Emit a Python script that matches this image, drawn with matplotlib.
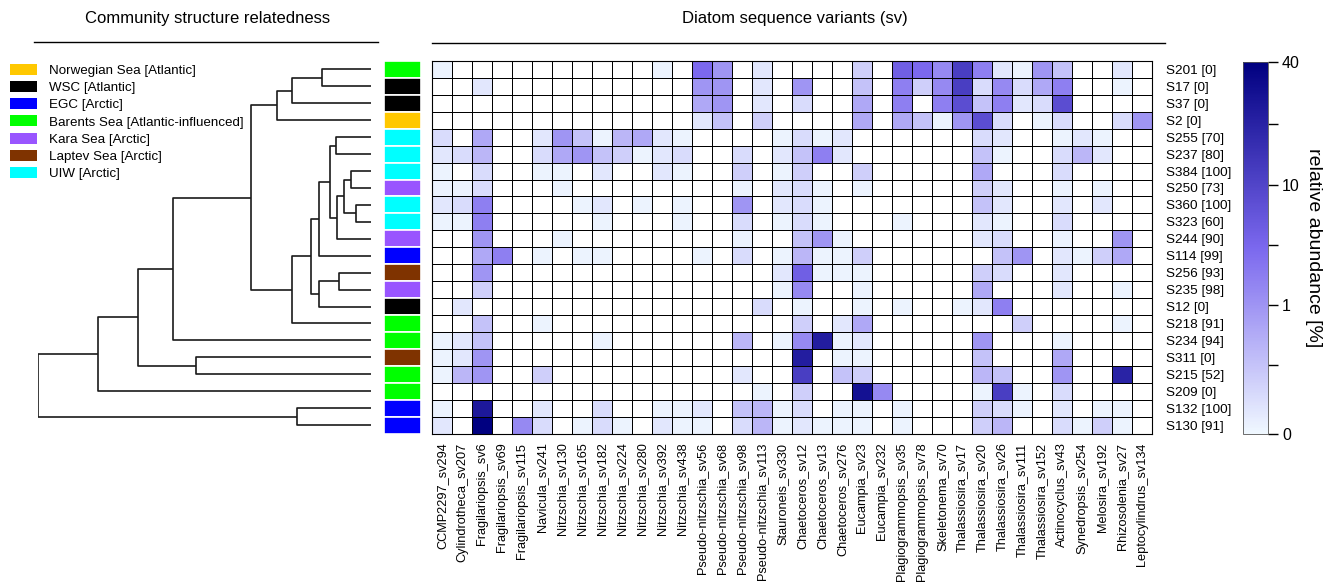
import numpy as np
import matplotlib
matplotlib.use("Agg")
import matplotlib.pyplot as plt
from matplotlib.colors import LinearSegmentedColormap, FuncNorm
from matplotlib.patches import Patch
from matplotlib.lines import Line2D
from matplotlib.ticker import FixedLocator, NullFormatter

plt.rcParams['font.family'] = ['Liberation Sans', 'DejaVu Sans']

# samples, top to bottom, with the number shown in brackets
samples = ["S201", "S17", "S37", "S2", "S255", "S237", "S384", "S250", "S360", "S323", "S244",
           "S114", "S256", "S235", "S12", "S218", "S234", "S311", "S215", "S209", "S132", "S130"]
sample_num = [0, 0, 0, 0, 70, 80, 100, 73, 100, 60, 90, 99, 93, 98, 0, 91, 94, 0, 52, 0, 100, 91]
sample_region = ["Barents", "WSC", "WSC", "Norwegian", "UIW", "UIW", "UIW", "Kara", "UIW", "UIW", "Kara",
                 "EGC", "Laptev", "Kara", "WSC", "Barents", "Barents", "Laptev", "Barents", "Barents", "EGC", "EGC"]

region_keys = ["Norwegian", "WSC", "EGC", "Barents", "Kara", "Laptev", "UIW"]
region_names = ["Norwegian Sea [Atlantic]", "WSC [Atlantic]", "EGC [Arctic]", "Barents Sea [Atlantic-influenced]",
                "Kara Sea [Arctic]", "Laptev Sea [Arctic]", "UIW [Arctic]"]
region_colors = ["#FFC800", "#000000", "#0000FF", "#00FF00", "#9955FF", "#7F3300", "#00FFFF"]

taxa = ["CCMP2297_sv294", "Cylindrotheca_sv207", "Fragilariopsis_sv6", "Fragilariopsis_sv69",
        "Fragilariopsis_sv115", "Navicula_sv241", "Nitzschia_sv130", "Nitzschia_sv165", "Nitzschia_sv182",
        "Nitzschia_sv224", "Nitzschia_sv280", "Nitzschia_sv392", "Nitzschia_sv438", "Pseudo-nitzschia_sv56",
        "Pseudo-nitzschia_sv68", "Pseudo-nitzschia_sv98", "Pseudo-nitzschia_sv113", "Stauroneis_sv330",
        "Chaetoceros_sv12", "Chaetoceros_sv13", "Chaetoceros_sv276", "Eucampia_sv23", "Eucampia_sv232",
        "Plagiogrammopsis_sv35", "Plagiogrammopsis_sv78", "Skeletonema_sv70", "Thalassiosira_sv17",
        "Thalassiosira_sv20", "Thalassiosira_sv26", "Thalassiosira_sv111", "Thalassiosira_sv152",
        "Actinocyclus_sv43", "Synedropsis_sv254", "Melosira_sv192", "Rhizosolenia_sv27", "Leptocylindrus_sv134"]

# relative abundance [%], 0 = not detected
abundance = [
    [.03, 0, 0, 0, 0, 0, 0, 0, 0, 0, 0, .03, 0, 2.9, 1.0, 0, .1, 0, 0, 0, 0, .23, 0, 4.5, 2.9, 1.5, 12, 1.9, .1, .03, 1.0, .32, 0, 0, .1, 0],
    [0, 0, .1, 0, 0, 0, 0, 0, 0, 0, 0, 0, 0, 1.0, 1.0, 0, .1, 0, 1.0, 0, 0, .32, 0, 1.9, .23, 1.5, 12, .16, 1.5, .16, .71, 1.9, 0, 0, .03, 0],
    [0, 0, 0, 0, 0, 0, 0, 0, 0, 0, 0, 0, 0, .71, 1.0, 0, .1, 0, .16, 0, 0, .71, 0, 1.9, 0, 1.9, 8.3, .32, 1.9, .1, .16, 8.3, 0, 0, 0, 0],
    [0, 0, 0, 0, 0, 0, 0, 0, 0, 0, 0, 0, 0, .1, .32, 0, .23, 0, 0, 0, 0, .71, 0, .71, .32, .03, 1.0, 8.3, .16, 0, .03, .16, 0, 0, .16, 1.0],
    [.16, 0, .71, 0, 0, .1, 1.0, .32, .03, .49, .71, .1, .03, 0, 0, 0, 0, .03, .16, .03, .1, 0, 0, 0, 0, 0, 0, .16, .1, 0, 0, .03, .1, .03, 0, 0],
    [.1, .16, .49, 0, 0, .16, .71, 1.0, .32, .23, .03, .1, .16, 0, 0, .16, 0, .1, .32, 1.9, .1, 0, 0, 0, 0, 0, 0, .32, .03, 0, 0, .16, .49, .1, 0, 0],
    [.03, 0, .16, 0, 0, .03, .03, 0, .1, 0, 0, .1, .03, 0, 0, .23, 0, .03, .23, 0, 0, .23, 0, 0, 0, 0, 0, .71, 0, 0, 0, .16, 0, 0, 0, 0],
    [.03, .03, .16, 0, 0, 0, .03, 0, 0, 0, 0, 0, 0, 0, 0, .03, 0, .1, .16, .03, 0, .03, 0, 0, 0, 0, 0, .23, .1, 0, 0, .03, 0, .03, 0, 0],
    [.1, .16, 1.9, 0, 0, 0, 0, .03, .1, 0, .03, 0, .03, 0, 0, 1.0, 0, .1, .16, .03, 0, 0, 0, 0, 0, 0, 0, .32, .1, 0, 0, .1, 0, .1, 0, 0],
    [.03, .03, 1.9, 0, 0, 0, 0, 0, .03, 0, 0, 0, .03, 0, 0, .16, 0, .03, .16, .03, 0, 0, 0, .03, 0, 0, 0, .1, .03, 0, 0, .16, 0, 0, 0, 0],
    [0, 0, 1.0, 0, 0, 0, .03, 0, 0, 0, 0, 0, 0, 0, 0, .03, 0, 0, .32, 1.0, .03, 0, 0, 0, 0, 0, 0, .1, .16, 0, 0, .03, 0, 0, 1.0, 0],
    [0, 0, .71, 1.9, 0, .03, 0, .03, .03, 0, 0, 0, 0, .03, 0, .16, 0, .03, .49, .03, .03, .23, 0, 0, 0, 0, 0, 0, .32, 1.0, 0, .1, .03, .23, .71, 0],
    [0, 0, 1.0, 0, 0, 0, 0, 0, 0, 0, 0, 0, 0, 0, 0, 0, 0, .1, 4.5, .03, .03, .03, 0, 0, 0, 0, 0, .23, .16, 0, 0, .1, 0, 0, 0, 0],
    [0, 0, .23, 0, 0, 0, 0, 0, 0, 0, 0, 0, 0, 0, 0, 0, 0, .03, 1.5, 0, 0, .03, 0, 0, 0, 0, 0, .71, 0, 0, 0, .1, 0, 0, .03, 0],
    [0, .1, 0, 0, 0, 0, 0, 0, 0, 0, 0, 0, 0, 0, 0, 0, .16, 0, .03, 0, 0, .03, 0, .03, 0, 0, .03, .1, 1.9, 0, 0, 0, 0, 0, 0, 0],
    [0, 0, .32, 0, 0, .03, 0, 0, 0, 0, 0, 0, 0, 0, 0, 0, 0, 0, .23, 0, .1, .71, 0, 0, 0, 0, 0, 0, 0, .23, 0, 0, 0, 0, .03, 0],
    [.03, .1, .32, 0, 0, 0, 0, 0, .03, 0, 0, 0, 0, 0, 0, .49, 0, .03, 1.5, 23, .03, .1, 0, 0, 0, 0, 0, 1.0, 0, 0, 0, .03, 0, 0, 0, 0],
    [.03, .1, 1.0, 0, 0, 0, 0, 0, 0, 0, 0, 0, 0, 0, 0, 0, 0, 0, 23, 0, .03, .03, 0, 0, 0, 0, 0, .32, 0, 0, 0, .71, 0, 0, 0, 0],
    [.03, .49, 1.0, 0, 0, .23, 0, 0, 0, 0, 0, 0, 0, 0, 0, .1, 0, 0, 12, 0, .32, .23, 0, 0, 0, 0, 0, .49, .32, 0, 0, 1.0, 0, 0, 20, 0],
    [0, 0, 0, 0, 0, 0, 0, 0, 0, 0, 0, 0, 0, 0, 0, 0, .03, 0, .23, 0, 0, 30, 1.5, 0, 0, 0, 0, .03, 12, .03, 0, .16, 0, 0, 0, 0],
    [.03, 0, 26, 0, 0, .1, 0, 0, .16, 0, 0, .03, .03, .1, 0, .32, .49, .03, .16, 0, .03, .03, 0, .03, 0, 0, 0, .23, .16, .03, 0, .1, 0, .03, .03, 0],
    [.1, 0, 40, 0, 1.5, .16, 0, .03, .16, .03, 0, .1, .03, .03, 0, .16, .49, .03, .1, .03, .03, .03, 0, .03, 0, 0, 0, .23, .49, 0, 0, .16, .03, .23, .03, 0],
]

# colour scale breaks (value -> fraction of the colour bar)
scale_values = [0, 0.3, 1, 3, 10, 20, 40]
scale_pos = [0, 0.186, 0.3455, 0.509, 0.6687, 0.832, 1]
cbar_ticks = [0, 1, 10, 40]
cbar_minor = [0.3, 3, 20]

# clustering: node = merge of left and right at given height (root = 1)
node_names = ["n0", "n1", "n2", "n3", "n4", "n5", "n6", "n7", "n8", "n9", "n10",
              "n11", "n12", "n13", "n14", "n15", "n16", "n17", "n18", "n19", "n20"]
merge_left = ["S201", "n0", "n1", "S255", "S384", "S360", "n4", "n6", "n3", "n8", "S256",
              "n10", "n9", "n12", "n2", "n14", "S311", "n15", "n17", "S132", "n18"]
merge_right = ["S17", "S37", "S2", "S237", "S250", "S323", "n5", "S244", "n7", "S114", "S235",
               "S12", "n11", "S218", "n13", "S234", "S215", "n16", "S209", "S130", "n19"]
merge_height = [0.148, 0.236, 0.283, 0.105, 0.061, 0.046, 0.081, 0.103, 0.123, 0.157, 0.095,
                0.155, 0.181, 0.238, 0.36, 0.595, 0.524, 0.70, 0.818, 0.223, 1.0]

W, H = 1333, 587
fig = plt.figure(figsize=(W / 100, H / 100), dpi=100)


def box(l, t, r, b):
    return [l / W, 1 - b / H, (r - l) / W, (b - t) / H]


top, bot = 61, 433.5
ax_h = fig.add_axes(box(432, top, 1152, bot))
ax_d = fig.add_axes(box(37.7, top, 371, bot))
ax_a = fig.add_axes(box(384, top, 421, bot))
ax_c = fig.add_axes(box(1243, 62, 1268, 434))

cmap = LinearSegmentedColormap.from_list("ab", ["aliceblue", "mediumslateblue", "navy"])
cmap.set_bad("white")
norm = FuncNorm((lambda v: np.interp(v, scale_values, scale_pos),
                 lambda p: np.interp(p, scale_pos, scale_values)), vmin=0, vmax=40)

data = np.array(abundance, dtype=float)
data = np.where(data > 0, data, np.nan)
nr, nc = data.shape
mesh = ax_h.pcolormesh(data, cmap=cmap, norm=norm, edgecolors="black", linewidth=0.65)
ax_h.set_xlim(0, nc)
ax_h.set_ylim(nr, 0)
ax_h.set_xticks(np.arange(nc) + 0.5)
ax_h.set_xticklabels(taxa, rotation=90, fontsize=9.2)
ax_h.set_yticks(np.arange(nr) + 0.5)
ax_h.set_yticklabels([f"{s} [{n}]" for s, n in zip(samples, sample_num)], fontsize=9.7)
ax_h.yaxis.tick_right()
ax_h.tick_params(axis="x", length=0, pad=6.5)
ax_h.tick_params(axis="y", length=0, pad=10)
for sp in ax_h.spines.values():
    sp.set_linewidth(0.8)

# region colour column
reg_col = dict(zip(region_keys, region_colors))
ax_a.barh(np.arange(nr) + 0.5, [1] * nr, height=1, left=0,
          color=[reg_col[r] for r in sample_region], edgecolor="white", linewidth=1.2)
ax_a.set_xlim(0, 1)
ax_a.set_ylim(nr, 0)
ax_a.axis("off")

# dendrogram
leaf_y = {s: i + 0.5 for i, s in enumerate(samples)}
node_pos = {}
for name, lft, rgt, h in zip(node_names, merge_left, merge_right, merge_height):
    lx, ly = node_pos.get(lft, (0.0, leaf_y.get(lft)))
    rx, ry = node_pos.get(rgt, (0.0, leaf_y.get(rgt)))
    ax_d.plot([lx, h, h, rx], [ly, ly, ry, ry], color="#1a1a1a", lw=1.2, solid_capstyle="butt")
    node_pos[name] = (h, (ly + ry) / 2)
ax_d.set_xlim(1, 0)
ax_d.set_ylim(nr, 0)
ax_d.axis("off")

# colour bar
cb = fig.colorbar(mesh, cax=ax_c, ticks=cbar_ticks)
cb.ax.set_yticklabels([str(t) for t in cbar_ticks])
cb.ax.yaxis.set_minor_locator(FixedLocator(cbar_minor))
cb.ax.yaxis.set_minor_formatter(NullFormatter())
cb.ax.tick_params(which="both", length=7, width=1, labelsize=11.5, pad=3)
cb.outline.set_linewidth(0.6)
cb.outline.set_edgecolor("#555555")
cb.set_label("relative abundance [%]", rotation=270, fontsize=14, labelpad=16)

# legend
handles = [Patch(facecolor=c, edgecolor="none", label=n) for n, c in zip(region_names, region_colors)]
fig.legend(handles=handles, loc="upper left", bbox_to_anchor=(10 / W, 1 - 64 / H), frameon=False,
           fontsize=9.6, handlelength=2.05, handleheight=0.9, handletextpad=0.9,
           labelspacing=0.3, borderpad=0, borderaxespad=0)

# headers
fig.text(208 / W, 1 - 18 / H, "Community structure relatedness", ha="center", va="center", fontsize=12)
fig.text(795 / W, 1 - 18 / H, "Diatom sequence variants (sv)", ha="center", va="center", fontsize=12)
fig.add_artist(Line2D([34 / W, 378 / W], [1 - 41.5 / H, 1 - 41.5 / H], color="black", lw=1))
fig.add_artist(Line2D([432 / W, 1165 / W], [1 - 43 / H, 1 - 43 / H], color="black", lw=1))

fig.savefig("out.png", dpi=100)
